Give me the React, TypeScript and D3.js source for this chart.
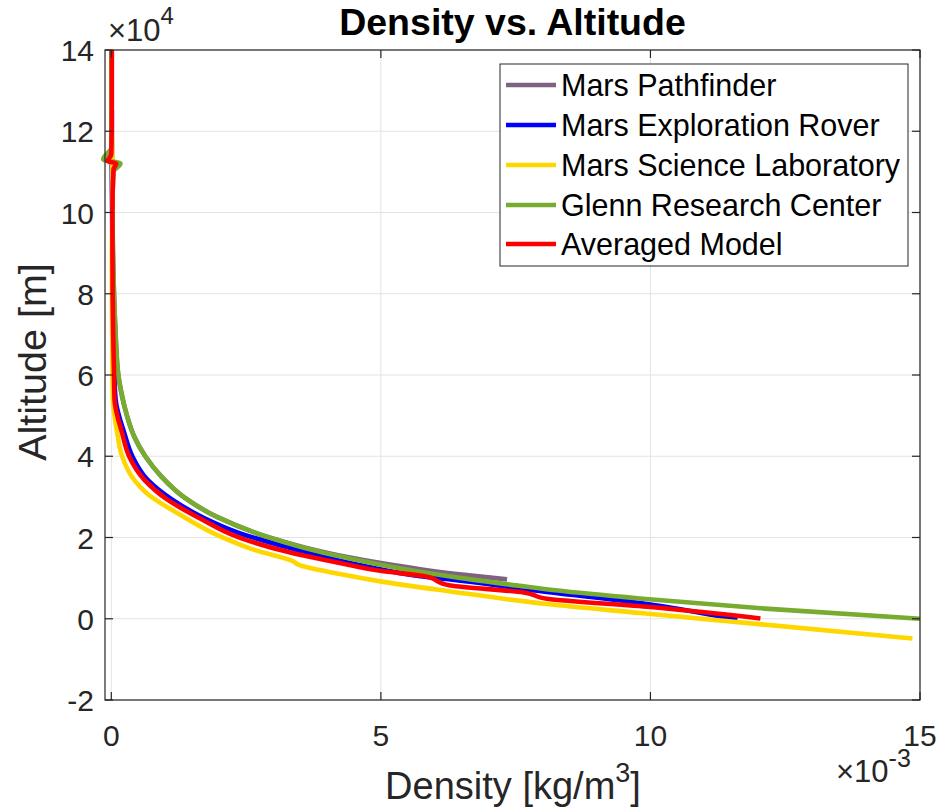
import React from 'react';
import * as d3 from 'd3';

// Density in units of 1e-3 kg/m^3, altitude in m
const pathfinderDensity = [0.0, 0.02, 0.05, 0.08, 0.13, 0.29, 0.42, 0.63, 0.93, 1.34, 1.97, 2.93, 3.6, 4.45, 5.0, 5.73, 6.55, 7.34];
const pathfinderAltitude = [130000, 100000, 80000, 70000, 60000, 50000, 45000, 40000, 35000, 30000, 25000, 20000, 17500, 15000, 13700, 12200, 10800, 9700];

const merDensity = [0.01, 0.01, 0.02, 0.03, 0.05, 0.08, 0.24, 0.39, 0.67, 1.13, 1.72, 2.39, 3.32, 4.24, 4.99, 5.73, 6.22, 8.08, 9.81, 11.61];
const merAltitude = [125000, 112000, 90000, 75000, 62000, 53940, 45740, 40000, 34240, 29310, 24800, 21030, 17410, 14290, 12200, 10500, 9780, 6600, 3900, -300];

const mslDensity = [0.0, 0.02, 0.02, 0.01, 0.02, 0.03, 0.11, 0.2, 0.42, 0.65, 1.275, 2.02, 2.64, 3.38, 3.47, 4.24, 4.99, 6.22, 8.08, 9.81, 14.86];
const mslAltitude = [125000, 112000, 100000, 90000, 62000, 53940, 45740, 40000, 34240, 30960, 25620, 20270, 17000, 14110, 13300, 11000, 9200, 6850, 3620, 1400, -4850];

const grcDensity = [0.0, 0.0, 0.0, -0.15, 0.17, 0.04, 0.02, 0.03, 0.05, 0.08, 0.13, 0.2, 0.29, 0.42, 0.63, 0.93, 1.34, 1.97, 2.93, 3.57, 4.36, 5.0, 5.32, 6.5, 7.58, 8.24, 9.8, 12.13, 15.0];
const grcAltitude = [140000, 125000, 116000, 113050, 112070, 110000, 100000, 90000, 80000, 70000, 60000, 55000, 50000, 45000, 40000, 35000, 30000, 25000, 20000, 17500, 15000, 13300, 12500, 10000, 8100, 7000, 5000, 2500, 0];

const avgDensity = [0.01, 0.01, 0.0, -0.07, 0.09, 0.04, 0.02, 0.025, 0.05, 0.06, 0.2, 0.33, 0.61, 1.04, 1.63, 2.39, 3.32, 4.24, 4.99, 5.79, 6.29, 7.65, 8.08, 10.0, 12.04];
const avgAltitude = [140000, 125000, 114300, 112640, 112070, 110600, 100000, 80000, 60000, 53940, 45740, 40000, 34240, 29310, 24800, 19900, 16300, 13720, 11800, 10500, 8200, 6480, 4900, 2880, 70];

const seriesNames = ['Mars Pathfinder', 'Mars Exploration Rover', 'Mars Science Laboratory', 'Glenn Research Center', 'Averaged Model'];
const seriesColors = ['#7f6181', '#0000ff', '#ffd700', '#77ac30', '#ff0000'];

const xTicks = [0, 5, 10, 15];
const yTicks = [-2, 0, 2, 4, 6, 8, 10, 12, 14];

const FONT = "'Liberation Sans', Arial, Helvetica, sans-serif";
const TXT = '#262626';

export default function App() {
  const W = 940, H = 812;
  const left = 105, right = 920, top = 50, bottom = 700;
  const x = d3.scaleLinear().domain([-0.117, 15]).range([left, right]);
  const y = d3.scaleLinear().domain([-20000, 140000]).range([bottom, top]);

  const series = [
    { d: pathfinderDensity, a: pathfinderAltitude },
    { d: merDensity, a: merAltitude },
    { d: mslDensity, a: mslAltitude },
    { d: grcDensity, a: grcAltitude },
    { d: avgDensity, a: avgAltitude },
  ].map((s, i) => ({
    name: seriesNames[i],
    color: seriesColors[i],
    pts: s.d.map((v, j) => [v, s.a[j]] as [number, number]),
  }));

  const line = d3.line<[number, number]>().x(p => x(p[0])).y(p => y(p[1])).curve(d3.curveMonotoneY);
  const tick = 8;

  const legendX = 500, legendY = 64, legendW = 408, legendH = 202;
  const legendRowY = [85, 125, 165, 205, 244];

  return (
    <svg width={W} height={H} style={{ position: 'absolute', left: 0, top: 0, background: '#fff' }} fontFamily={FONT}>
      <rect x={0} y={0} width={W} height={H} fill="#fff" />
      {/* grid */}
      {xTicks.map(t => (
        <line key={'gx' + t} x1={x(t)} x2={x(t)} y1={top} y2={bottom} stroke="#e3e3e3" strokeWidth={1} />
      ))}
      {yTicks.map(t => (
        <line key={'gy' + t} x1={left} x2={right} y1={y(t * 1e4)} y2={y(t * 1e4)} stroke="#e3e3e3" strokeWidth={1} />
      ))}
      {/* series */}
      {series.map(s => (
        <path key={s.name} d={line(s.pts) || ''} fill="none" stroke={s.color} strokeWidth={4.6} strokeLinejoin="round" />
      ))}
      {/* axes box */}
      <rect x={left} y={top} width={right - left} height={bottom - top} fill="none" stroke={TXT} strokeWidth={1.2} />
      {xTicks.map(t => (
        <g key={'tx' + t}>
          <line x1={x(t)} x2={x(t)} y1={bottom} y2={bottom - tick} stroke={TXT} strokeWidth={1.2} />
          <line x1={x(t)} x2={x(t)} y1={top} y2={top + tick} stroke={TXT} strokeWidth={1.2} />
          <text x={x(t)} y={746} textAnchor="middle" fontSize={30} fill={TXT}>{t}</text>
        </g>
      ))}
      {yTicks.map(t => (
        <g key={'ty' + t}>
          <line x1={left} x2={left + tick} y1={y(t * 1e4)} y2={y(t * 1e4)} stroke={TXT} strokeWidth={1.2} />
          <line x1={right} x2={right - tick} y1={y(t * 1e4)} y2={y(t * 1e4)} stroke={TXT} strokeWidth={1.2} />
          <text x={94} y={y(t * 1e4) + 11} textAnchor="end" fontSize={30} fill={TXT}>{t}</text>
        </g>
      ))}
      {/* exponent labels */}
      <text x={108} y={41} fontSize={31} fill={TXT}>×10<tspan fontSize={24} dy={-17}>4</tspan></text>
      <text x={836} y={782} fontSize={31} fill={TXT}>×10<tspan fontSize={25} dy={-15}>-3</tspan></text>
      {/* title & labels */}
      <text x={(left + right) / 2} y={35} textAnchor="middle" fontSize={37.5} fontWeight="bold" fill="#000">Density vs. Altitude</text>
      <text x={513} y={799} textAnchor="middle" fontSize={38} fill={TXT}>Density [kg/m<tspan fontSize={27} dy={-17}>3</tspan><tspan dy={17}>]</tspan></text>
      <text transform={`translate(46,362) rotate(-90)`} textAnchor="middle" fontSize={39.5} fill={TXT}>Altitude [m]</text>
      {/* legend */}
      <rect x={legendX} y={legendY} width={legendW} height={legendH} fill="#fff" stroke={TXT} strokeWidth={1} />
      {series.map((s, i) => (
        <g key={'lg' + s.name}>
          <line x1={506} x2={556} y1={legendRowY[i]} y2={legendRowY[i]} stroke={s.color} strokeWidth={4.6} />
          <text x={561} y={legendRowY[i] + 11} fontSize={30.5} fill="#000">{s.name}</text>
        </g>
      ))}
    </svg>
  );
}
